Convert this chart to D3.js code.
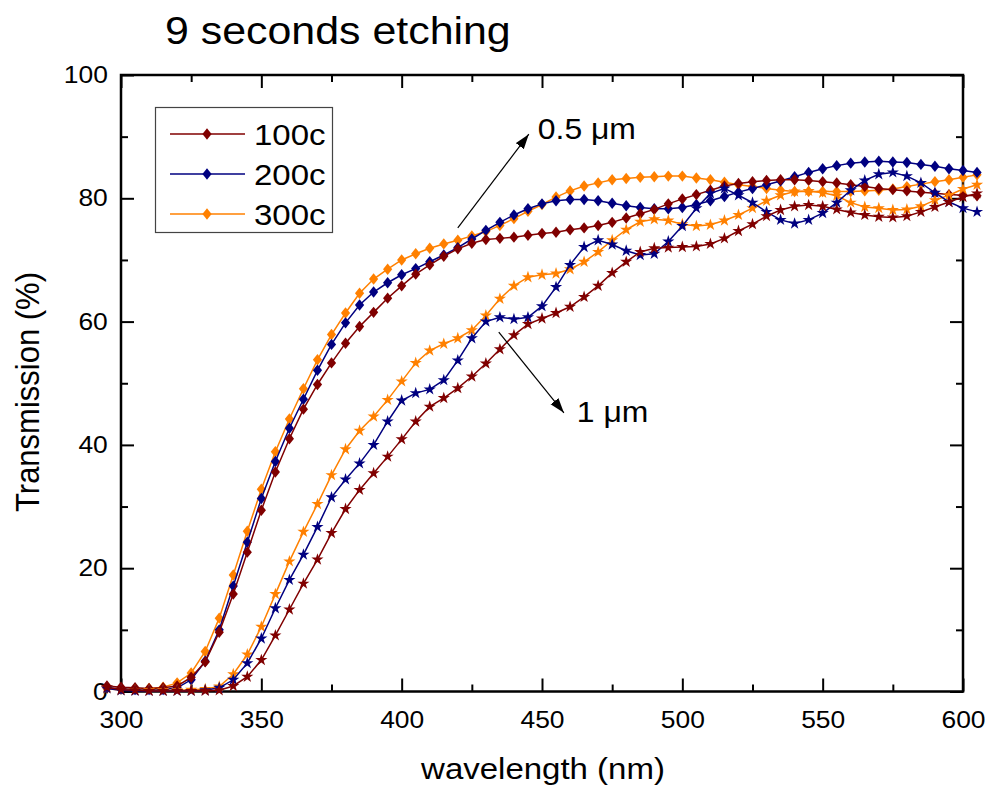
<!DOCTYPE html>
<html lang="en">

<head>
  <meta charset="UTF-8">
  <title>9 seconds etching</title>
  <script src="https://d3js.org/d3.v7.min.js"></script>
  <style>
    body { margin: 0; background: #fff; }
    text { font-family: Arial, "Liberation Sans", sans-serif; fill: #000; }
  </style>
</head>

<body>
  <script>
    // wavelength (nm), one point every 5 nm
    const wavelength = [295, 300, 305, 310, 315, 320, 325, 330, 335, 340, 345, 350, 355, 360, 365, 370,
      375, 380, 385, 390, 395, 400, 405, 410, 415, 420, 425, 430, 435, 440, 445, 450, 455, 460, 465, 470,
      475, 480, 485, 490, 495, 500, 505, 510, 515, 520, 525, 530, 535, 540, 545, 550, 555, 560, 565, 570,
      575, 580, 585, 590, 595, 600, 605];

    // transmission (%) - 0.5 um (diamonds)
    const t100c_05 = [0.9, 0.7, 0.6, 0.5, 0.6, 0.9, 2.3, 4.8, 9.6, 15.8, 22.6, 29.4, 35.6, 41.0, 45.8, 49.8,
      53.3, 56.5, 59.2, 61.5, 63.8, 65.8, 67.7, 69.2, 70.6, 71.8, 72.7, 73.3, 73.5, 73.7, 74.0, 74.3, 74.5, 74.9, 75.2, 75.6,
      76.1, 76.8, 77.5, 78.2, 79.1, 79.9, 80.6, 81.3, 82.0, 82.4, 82.7, 82.9, 83.0, 83.0, 82.9, 82.7, 82.5, 82.2, 81.9, 81.6,
      81.4, 81.2, 81.0, 80.8, 80.6, 80.5, 80.4];
    const t200c_05 = [0.6, 0.4, 0.3, 0.3, 0.3, 0.6, 1.9, 4.9, 10.0, 17.1, 24.2, 31.3, 37.3, 42.7, 47.4, 52.1,
      56.3, 59.8, 62.7, 64.8, 66.3, 67.6, 68.6, 69.7, 70.8, 72.0, 73.4, 74.8, 76.1, 77.3, 78.3, 79.1, 79.6, 79.8, 79.8, 79.6,
      79.2, 78.8, 78.5, 78.3, 78.3, 78.5, 79.0, 79.6, 80.3, 81.0, 81.6, 82.2, 82.8, 83.5, 84.2, 84.8, 85.3, 85.7, 85.9, 86.0,
      85.9, 85.8, 85.5, 85.2, 84.8, 84.5, 84.2];
    const t300c_05 = [0.5, 0.4, 0.4, 0.5, 0.7, 1.4, 3.0, 6.5, 11.9, 18.9, 26.0, 32.8, 38.9, 44.2, 49.1, 53.8,
      57.9, 61.4, 64.6, 66.9, 68.5, 70.0, 71.0, 71.9, 72.6, 73.2, 73.9, 74.6, 75.6, 76.7, 77.9, 79.0, 80.2, 81.2, 82.0, 82.5,
      83.0, 83.2, 83.4, 83.5, 83.6, 83.6, 83.3, 83.0, 82.6, 82.2, 81.9, 81.6, 81.3, 81.1, 81.1, 81.1, 81.1, 81.1, 81.2, 81.3,
      81.5, 81.9, 82.3, 82.7, 83.0, 83.4, 83.8];

    // transmission (%) - 1 um (stars)
    const t100c_1 = [0.7, 0.3, 0.2, 0.1, 0.1, 0.1, 0.1, 0.1, 0.2, 0.9, 2.4, 5.1, 9.1, 13.3, 17.5, 21.4,
      25.7, 29.6, 32.7, 35.4, 38.1, 40.9, 43.8, 46.2, 47.6, 49.2, 51.1, 53.2, 55.5, 57.8, 59.6, 60.5, 61.4, 62.4, 64.0, 65.8,
      67.9, 69.7, 71.3, 71.9, 72.0, 72.1, 72.2, 72.6, 73.5, 74.7, 75.8, 77.1, 78.1, 78.7, 78.9, 78.7, 78.2, 77.7, 77.3, 77.0,
      76.9, 77.1, 77.8, 78.6, 79.4, 80.2, 80.8];
    const t200c_1 = [0.5, 0.2, 0.1, 0.1, 0.1, 0.1, 0.1, 0.2, 0.6, 1.9, 4.6, 8.6, 13.5, 18.1, 22.2, 26.7,
      31.5, 34.4, 37.0, 40.0, 43.8, 47.2, 48.4, 49.0, 50.5, 53.7, 57.3, 60.0, 60.7, 60.4, 60.7, 62.5, 65.6, 69.2, 72.1, 73.2,
      72.5, 71.5, 70.8, 71.0, 73.0, 75.5, 78.4, 80.8, 81.6, 80.5, 79.3, 77.8, 76.5, 75.9, 76.5, 77.6, 79.3, 81.3, 82.9, 83.9,
      84.2, 83.6, 82.5, 80.9, 79.4, 78.4, 77.8];
    const t300c_1 = [0.5, 0.2, 0.2, 0.2, 0.2, 0.2, 0.3, 0.4, 0.8, 2.8, 6.0, 10.5, 15.8, 21.1, 25.9, 30.4,
      35.1, 39.3, 42.3, 44.6, 47.3, 50.3, 53.3, 55.3, 56.4, 57.3, 58.6, 61.0, 63.7, 65.8, 67.2, 67.6, 67.8, 68.5, 69.7, 71.3,
      73.2, 74.9, 76.2, 76.6, 76.4, 75.8, 75.5, 75.7, 76.4, 77.3, 78.4, 79.6, 80.5, 81.1, 81.2, 80.9, 80.4, 79.3, 78.6, 78.4,
      78.1, 78.2, 78.7, 79.7, 80.5, 81.5, 82.2];

    const seriesNames = ['100c', '200c', '300c'];
    const seriesColors = ['#800000', '#000080', '#ff8000'];

    // axis ticks
    const xMajor = [300, 350, 400, 450, 500, 550, 600];
    const xMinor = [325, 375, 425, 475, 525, 575];
    const yMajor = [0, 20, 40, 60, 80, 100];
    const yMinor = [10, 30, 50, 70, 90];

    // annotation arrows, in data units [from wl, from T, to wl, to T]
    const arrows = [[420.0, 75.2, 445.3, 90.4], [434.6, 58.3, 457.8, 45.2]];
    const arrowLabels = ['0.5 \u03bcm', '1 \u03bcm'];
    const arrowLabelPos = [[448.5, 89.6], [462.4, 43.7]];

    const w = 989;
    const h = 785;
    const stretch = 'scale(1.1,1)';

    const x = d3.scaleLinear().domain([300, 600]).range([121, 963]);
    const y = d3.scaleLinear().domain([0, 100]).range([691.5, 75]);

    const svg = d3.select('body')
      .append('svg')
      .attr('width', w)
      .attr('height', h);

    svg.append('defs').append('marker')
      .attr('id', 'head')
      .attr('markerUnits', 'userSpaceOnUse')
      .attr('markerWidth', 16)
      .attr('markerHeight', 12)
      .attr('refX', 15)
      .attr('refY', 5)
      .attr('orient', 'auto')
      .append('path')
      .attr('d', 'M0,0 L15,5 L0,10 Z')
      .attr('fill', '#000');

    // title
    svg.append('g')
      .attr('transform', `translate(165,44) ${stretch}`)
      .append('text')
      .attr('font-size', 39)
      .text('9 seconds etching');

    // axes, ticks inward on all four sides
    function styleAxis(g) {
      g.select('.domain').remove();
      g.selectAll('line').attr('stroke', '#000').attr('stroke-width', 2);
      g.selectAll('text').attr('font-size', 24).attr('fill', '#000').attr('font-family', null);
    }

    const axBottom = svg.append('g').attr('transform', `translate(0,${y(0)})`);
    axBottom.append('g').call(d3.axisBottom(x).tickValues(xMajor).tickSizeInner(-13).tickSizeOuter(0).tickPadding(19)).call(styleAxis);
    axBottom.append('g').call(d3.axisBottom(x).tickValues(xMinor).tickSizeInner(-7).tickSizeOuter(0).tickFormat('')).call(styleAxis);
    axBottom.selectAll('text').attr('transform', stretch);

    const axTop = svg.append('g').attr('transform', `translate(0,${y(100)})`);
    axTop.append('g').call(d3.axisTop(x).tickValues(xMajor).tickSizeInner(-13).tickSizeOuter(0).tickFormat('')).call(styleAxis);
    axTop.append('g').call(d3.axisTop(x).tickValues(xMinor).tickSizeInner(-7).tickSizeOuter(0).tickFormat('')).call(styleAxis);

    const axLeft = svg.append('g').attr('transform', `translate(${x(300)},0)`);
    axLeft.append('g').call(d3.axisLeft(y).tickValues(yMajor).tickSizeInner(-13).tickSizeOuter(0).tickPadding(12)).call(styleAxis);
    axLeft.append('g').call(d3.axisLeft(y).tickValues(yMinor).tickSizeInner(-7).tickSizeOuter(0).tickFormat('')).call(styleAxis);
    axLeft.selectAll('text').attr('transform', stretch);

    const axRight = svg.append('g').attr('transform', `translate(${x(600)},0)`);
    axRight.append('g').call(d3.axisRight(y).tickValues(yMajor).tickSizeInner(-13).tickSizeOuter(0).tickFormat('')).call(styleAxis);
    axRight.append('g').call(d3.axisRight(y).tickValues(yMinor).tickSizeInner(-7).tickSizeOuter(0).tickFormat('')).call(styleAxis);

    svg.append('rect')
      .attr('x', x(300))
      .attr('y', y(100))
      .attr('width', x(600) - x(300))
      .attr('height', y(0) - y(100))
      .attr('fill', 'none')
      .attr('stroke', '#000')
      .attr('stroke-width', 2.5);

    // axis titles
    svg.append('g')
      .attr('transform', `translate(543,779) ${stretch}`)
      .append('text')
      .attr('text-anchor', 'middle')
      .attr('font-size', 30)
      .text('wavelength (nm)');

    svg.append('g')
      .attr('transform', 'translate(39,392) rotate(-90) scale(1,1.1)')
      .append('text')
      .attr('text-anchor', 'middle')
      .attr('font-size', 31)
      .text('Transmission (%)');

    // markers
    const diamond = {
      draw(ctx, size) {
        const r = Math.sqrt(size) / 2;
        ctx.moveTo(0, -r * 1.14);
        ctx.lineTo(r * 0.92, 0);
        ctx.lineTo(0, r * 1.14);
        ctx.lineTo(-r * 0.92, 0);
        ctx.closePath();
      }
    };
    const diamondPath = d3.symbol().type(diamond).size(100)();
    const starPath = d3.symbol().type(d3.symbolStar).size(46)();

    const line = d3.line()
      .x((d, i) => x(wavelength[i]))
      .y(d => y(d));

    function drawSeries(values, color, shape) {
      const g = svg.append('g');
      g.append('path')
        .attr('d', line(values))
        .attr('fill', 'none')
        .attr('stroke', color)
        .attr('stroke-width', 1.5);
      g.selectAll('path.pt')
        .data(values)
        .enter()
        .append('path')
        .attr('class', 'pt')
        .attr('d', shape)
        .attr('transform', (d, i) => `translate(${x(wavelength[i])},${y(d)})`)
        .attr('fill', color);
    }

    drawSeries(t300c_05, seriesColors[2], diamondPath);
    drawSeries(t200c_05, seriesColors[1], diamondPath);
    drawSeries(t100c_05, seriesColors[0], diamondPath);
    drawSeries(t300c_1, seriesColors[2], starPath);
    drawSeries(t200c_1, seriesColors[1], starPath);
    drawSeries(t100c_1, seriesColors[0], starPath);

    // annotations
    svg.selectAll('line.arrow')
      .data(arrows)
      .enter()
      .append('line')
      .attr('class', 'arrow')
      .attr('x1', d => x(d[0]))
      .attr('y1', d => y(d[1]))
      .attr('x2', d => x(d[2]))
      .attr('y2', d => y(d[3]))
      .attr('stroke', '#000')
      .attr('stroke-width', 1.2)
      .attr('marker-end', 'url(#head)');

    arrowLabels.forEach((t, i) => {
      svg.append('g')
        .attr('transform', `translate(${x(arrowLabelPos[i][0])},${y(arrowLabelPos[i][1])}) ${stretch}`)
        .append('text')
        .attr('font-size', 29)
        .text(t);
    });

    // legend
    const legend = svg.append('g');
    legend.append('rect')
      .attr('x', 155.5)
      .attr('y', 107.5)
      .attr('width', 177)
      .attr('height', 125)
      .attr('fill', '#fff')
      .attr('stroke', '#444')
      .attr('stroke-width', 1.2);

    const rows = legend.selectAll('g.row')
      .data(seriesNames)
      .enter()
      .append('g')
      .attr('class', 'row')
      .attr('transform', (d, i) => `translate(0,${134 + i * 40})`);
    rows.append('line')
      .attr('x1', 170)
      .attr('x2', 245)
      .attr('stroke', (d, i) => seriesColors[i])
      .attr('stroke-width', 1.5);
    rows.append('path')
      .attr('d', diamondPath)
      .attr('transform', 'translate(207,0)')
      .attr('fill', (d, i) => seriesColors[i]);
    rows.append('g')
      .attr('transform', `translate(254,11) ${stretch}`)
      .append('text')
      .attr('font-size', 30)
      .text(d => d);
  </script>
</body>

</html>
